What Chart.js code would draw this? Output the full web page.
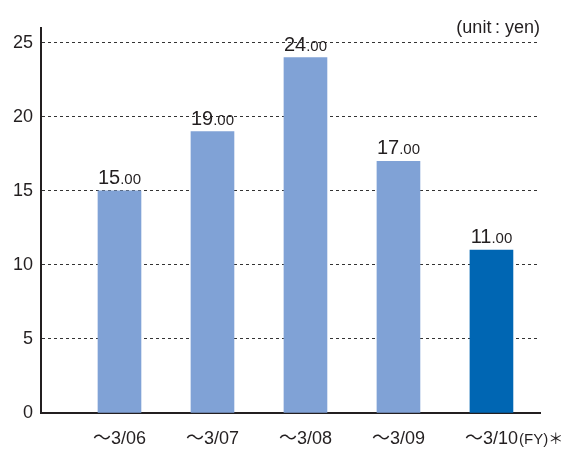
<!DOCTYPE html>
<html>
<head>
<meta charset="utf-8">
<script src="https://cdn.jsdelivr.net/npm/chart.js@4"></script>
<style>
  html, body { margin: 0; padding: 0; background: #fff; }
  #wrap { width: 564px; height: 449px; }
</style>
</head>
<body>
<div id="wrap"><canvas id="chart"></canvas></div>
<script>
const periods = ["〜3/06", "〜3/07", "〜3/08", "〜3/09", "〜3/10"];
const dividends = [15, 19, 24, 17, 11];
const barColors = ["#80a2d6", "#80a2d6", "#80a2d6", "#80a2d6", "#0066b3"];
const yTicks = [0, 5, 10, 15, 20, 25];
const lastSuffix = "(FY)＊";
const unitLabel = "(unit\u2009: yen)";

const FONT = "'Liberation Sans', Arial, 'Noto Sans CJK JP', sans-serif";
const INK = "#231f20";

// value labels: integer part large, decimals small
const valueLabels = {
  id: "valueLabels",
  afterDatasetsDraw(chart) {
    const ctx = chart.ctx;
    const meta = chart.getDatasetMeta(0);
    ctx.save();
    ctx.fillStyle = INK;
    ctx.textBaseline = "alphabetic";
    meta.data.forEach((bar, i) => {
      const v = dividends[i];
      const big = String(Math.trunc(v));
      const small = "." + v.toFixed(2).split(".")[1];
      ctx.font = `20px ${FONT}`;
      const wb = ctx.measureText(big).width;
      ctx.font = `15px ${FONT}`;
      const ws = ctx.measureText(small).width;
      const x0 = bar.x - (wb + ws) / 2;
      const y = bar.y - 7;
      ctx.textAlign = "left";
      ctx.font = `20px ${FONT}`;
      ctx.fillText(big, x0, y);
      ctx.font = `15px ${FONT}`;
      ctx.fillText(small, x0 + wb, y);
    });

    // unit note above the plot, right aligned
    const area = chart.chartArea;
    ctx.font = `18px ${FONT}`;
    ctx.textAlign = "right";
    ctx.fillText(unitLabel, area.right, area.top + 5);

    // "(FY)*" after the last period label
    const xs = chart.scales.x;
    const last = periods.length - 1;
    ctx.font = `18px ${FONT}`;
    const wl = ctx.measureText(periods[last]).width;
    ctx.font = `15px ${FONT}`;
    ctx.textAlign = "left";
    ctx.fillText(lastSuffix, xs.getPixelForValue(last) + wl / 2 + 1, area.bottom + 31);
    ctx.restore();
  }
};

new Chart(document.getElementById("chart"), {
  type: "bar",
  data: {
    datasets: [{
      data: dividends.map((v, i) => ({ x: i, y: v })),
      backgroundColor: barColors,
      borderWidth: 0,
      barThickness: 43,
    }],
  },
  options: {
    responsive: true,
    maintainAspectRatio: false,
    animation: false,
    layout: { padding: { top: 28, right: 24, left: 0, bottom: 0 } },
    plugins: {
      legend: { display: false },
      tooltip: { enabled: false },
    },
    scales: {
      x: {
        type: "linear",
        offset: false,
        min: -0.844,
        max: 4.522,
        afterFit(scale) { scale.height = 36; },
        afterBuildTicks(scale) {
          scale.ticks = periods.map((_, i) => ({ value: i }));
        },
        grid: { display: false, drawTicks: false, offset: false },
        border: { display: true, color: INK, width: 2 },
        ticks: {
          color: INK,
          font: { size: 18, family: FONT },
          padding: 15,
          autoSkip: false,
          maxRotation: 0,
          callback: (v) => periods[v] ?? "",
        },
      },
      y: {
        min: 0,
        max: 26,
        afterFit(scale) { scale.width = 41; },
        afterBuildTicks(scale) {
          scale.ticks = yTicks.map((v) => ({ value: v }));
        },
        grid: {
          color: "#333",
          lineWidth: 1,
          drawTicks: false,
        },
        border: { display: true, color: INK, width: 2, dash: [3, 3] },
        ticks: {
          color: INK,
          font: { size: 18, family: FONT },
          padding: 8,
        },
      },
    },
  },
  plugins: [valueLabels],
});
</script>
</body>
</html>
